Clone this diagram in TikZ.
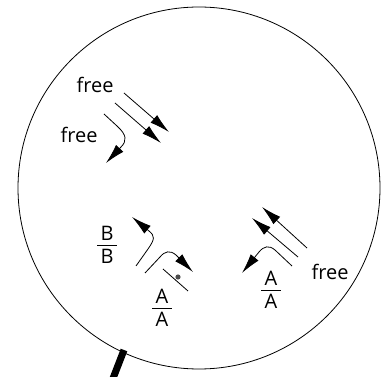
\documentclass[tikz,border=0pt]{standalone}
\usepackage{fontspec}
\setmainfont{Open Sans}
\usetikzlibrary{arrows.meta,positioning}

% one strand label over its partner
\newcommand{\pairfrac}[1]{\vbox{\hbox to 20pt{\hss#1\hss}\kern4pt\hrule height0.7pt\kern4pt\hbox to 20pt{\hss#1\hss}}}

\begin{document}
\begin{tikzpicture}[x=1pt,y=-1pt,
    lbl/.style={font=\fontsize{20}{22}\selectfont, inner sep=0pt},
    strand/.style={line width=0.8pt, -{Latex[length=20pt,width=10pt]}},
  ]
    \useasboundingbox (0,0) rectangle (381,377);

    % Cell
    \draw [line width=0.8pt] (199,188) circle (181pt);
    \draw [line width=7pt] (124,350) -- (112,381);

    % Free strands, top
    \node [lbl] (freeTop) at (95,85) {free};
    \node [lbl] (freeMid) at (79,135) {free};
    \draw [strand] (124,93) -- (169,132);
    \draw [strand] (115,103) -- (161,143);
    \draw [strand] (104,114) -- (117,126) .. controls (127,135) and (127,141) .. (121,147) -- (106,163);

    % Paired strands, bottom left
    \node [lbl] (fracB) at (107,245) {\pairfrac{B}};
    \node [lbl] (fracA) at (162,308) {\pairfrac{A}};
    \draw [strand] (136,266) -- (148,249) .. controls (155,239) and (155,236) .. (149,231) -- (132,217);
    \draw [strand] (145,273) -- (160,257) .. controls (165,251) and (170,250) .. (176,255) -- (193,272);
    \draw [line width=0.8pt] (163,269) -- (188,291);
    \fill [gray!60!black] (178,277) circle (2.6pt);

    % Paired strands, bottom right
    \node [lbl] (fracR) at (271,290) {\pairfrac{A}};
    \node [lbl] (freeLow) at (330,272) {free};
    \draw [strand] (307,248) -- (262,207);
    \draw [strand] (298,257) -- (252,218);
    \draw [strand] (292,266) -- (275,250) .. controls (269,245) and (264,246) .. (259,252) -- (242,273);
\end{tikzpicture}
\end{document}
